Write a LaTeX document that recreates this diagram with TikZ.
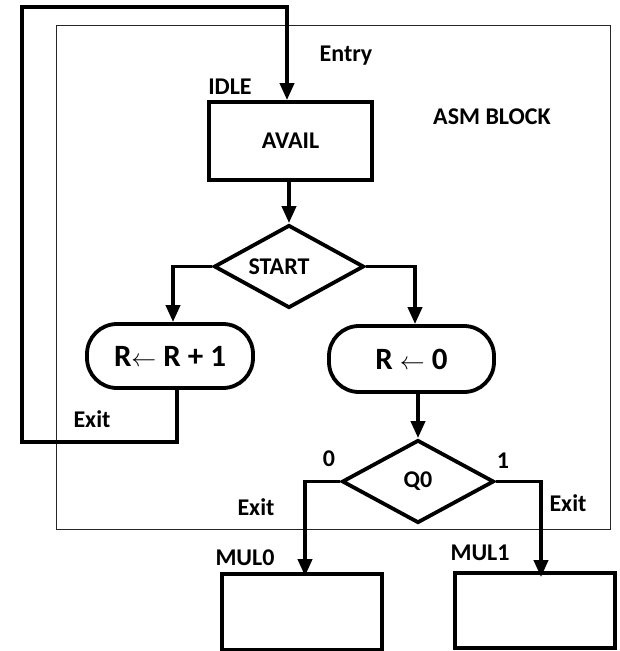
\documentclass[tikz,border=0pt]{standalone}
\usepackage{fontspec}
\setmainfont{Carlito}
\usetikzlibrary{arrows.meta,shapes.geometric}
\begin{document}
\begin{tikzpicture}[x=1pt,y=-1pt,
  thickline/.style={line width=3.8pt},
  flow/.style={thickline,-{Triangle[width=14pt,length=17pt]}},
  boxst/.style={draw,thickline,rectangle,inner sep=0pt},
  decst/.style={draw,thickline,diamond,inner sep=0pt},
  termst/.style={draw,thickline,rectangle,rounded corners=30pt,inner sep=0pt},
  lbl/.style={font=\fontsize{24}{26}\selectfont\bfseries,inner sep=0pt},
  big/.style={font=\fontsize{31}{34}\selectfont\bfseries,inner sep=0pt}]
\useasboundingbox (0,0) rectangle (619,651);
% ASM block frame
\draw[line width=0.9pt,black!85] (56,25) rectangle (610,529);
% nodes
\node[boxst,minimum width=163pt,minimum height=78pt,lbl] (avail) at (290.5,141) {AVAIL};
\node[decst,minimum width=150pt,minimum height=83pt,lbl] (start) at (289,266.5) {\hspace*{-20pt}START};
\node[termst,minimum width=166pt,minimum height=64pt,big] (r1) at (170,356) {R$\leftarrow$ R + 1};
\node[termst,minimum width=165pt,minimum height=66pt,big] (r0) at (411.5,359) {R $\leftarrow$ 0};
\node[decst,minimum width=152pt,minimum height=83pt,lbl] (q0) at (418,481.5) {Q0};
\node[boxst,minimum width=160pt,minimum height=76pt] (mul0) at (302,612) {};
\node[boxst,minimum width=160pt,minimum height=75pt] (mul1) at (535,610.5) {};
% labels
\node[lbl] (lentry) at (346,56) {Entry};
\node[lbl] (lidle) at (230,87) {IDLE};
\node[lbl] (lasm) at (492,117) {ASM BLOCK};
\node[lbl] (lexit1) at (92,419) {Exit};
\node[lbl] (lexit2) at (256,507) {Exit};
\node[lbl] (lexit3) at (568,503) {Exit};
\node[lbl] (lzero) at (329,459) {0};
\node[lbl] (lone) at (503,461) {1};
\node[lbl] (lmul0) at (245,558) {MUL0};
\node[lbl] (lmul1) at (480,553) {MUL1};
% coordinates
\coordinate (la) at (177,442);
\coordinate (lb) at (22,442);
\coordinate (lc) at (22,7);
\coordinate (ld) at (287,7);
\coordinate (sl) at (173,266.5);
\coordinate (sr) at (415,266.5);
\coordinate (ql) at (305,481.5);
\coordinate (qr) at (541,481.5);
% connectors
\draw[flow] (r1.south -| la) -- (la) -- (lb) -- (lc) -- (ld) -- (avail.north -| ld);
\draw[flow] (avail.south -| start.north) -- (start.north);
\draw[flow] (start.west) -- (sl) -- (r1.north -| sl);
\draw[flow] (start.east) -- (sr) -- (r0.north -| sr);
\draw[flow] (r0.south -| q0.north) -- (q0.north);
\draw[flow] (q0.west) -- (ql) -- ([yshift=-4pt]mul0.north -| ql);
\draw[flow] (q0.east) -- (qr) -- ([yshift=-6pt]mul1.north -| qr);
\end{tikzpicture}
\end{document}
